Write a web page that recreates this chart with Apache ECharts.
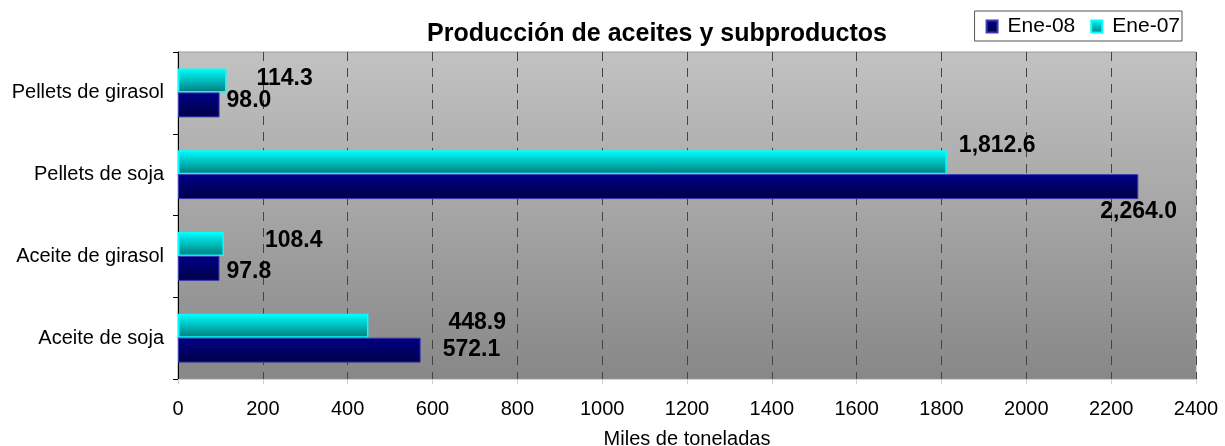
<!DOCTYPE html>
<html>
<head>
<meta charset="utf-8">
<script src="https://cdn.jsdelivr.net/npm/echarts@6/dist/echarts.min.js"></script>
<style>
  html, body { margin: 0; padding: 0; background: #fff; }
  #chart { width: 1225px; height: 446px; }
</style>
</head>
<body>
<div id="chart"></div>
<script>
const categories = ['Aceite de soja', 'Aceite de girasol', 'Pellets de soja', 'Pellets de girasol'];
const ene08 = [572.1, 97.8, 2264.0, 98.0];
const ene07 = [448.9, 108.4, 1812.6, 114.3];
const xTicks = { min: 0, max: 2400, step: 200 };

// label nudges, roughly where the original spreadsheet placed them
const offsets08 = [[22, 0], [7, 3], [-38, 25], [7, -4]];
const offsets07 = [[80, -3], [41, -3], [12, -16], [30, -2]];

const fontFam = 'Liberation Sans, Arial, sans-serif';

const fmt = (v) => v.toLocaleString('en-US', { minimumFractionDigits: 1, maximumFractionDigits: 1 });

const makeData = (values, offs) => values.map((v, i) => ({
  value: v,
  label: { offset: offs[i] }
}));

const barLabel = {
  show: true,
  position: 'right',
  distance: 0,
  formatter: (p) => fmt(p.value),
  fontFamily: fontFam,
  fontSize: 23,
  fontWeight: 'bold',
  color: '#000'
};

const chart = echarts.init(document.getElementById('chart'));

chart.setOption({
  animation: false,
  title: {
    text: 'Producción de aceites y subproductos',
    left: 652,
    textAlign: 'center',
    top: 17,
    textStyle: { fontFamily: fontFam, fontSize: 25, fontWeight: 'bold', color: '#000' }
  },
  legend: {
    right: 43,
    top: 11,
    orient: 'horizontal',
    icon: 'rect',
    itemWidth: 11,
    itemHeight: 12,
    itemGap: 15,
    padding: [5, 2, 4, 11],
    borderColor: '#555',
    borderWidth: 1,
    backgroundColor: '#fff',
    data: ['Ene-08', 'Ene-07'],
    textStyle: { fontFamily: fontFam, fontSize: 21, color: '#000', padding: [0, 0, 0, 5] }
  },
  grid: {
    left: 178,
    right: 29,
    top: 52,
    bottom: 67,
    outerBoundsMode: 'none',
    show: true,
    borderColor: '#9a9a9a',
    borderWidth: 1,
    backgroundColor: new echarts.graphic.LinearGradient(0, 0, 0, 1, [
      { offset: 0, color: '#c2c2c2' },
      { offset: 1, color: '#878787' }
    ])
  },
  xAxis: {
    type: 'value',
    min: xTicks.min,
    max: xTicks.max,
    interval: xTicks.step,
    name: 'Miles de toneladas',
    nameLocation: 'middle',
    nameGap: 50,
    nameTextStyle: { fontFamily: fontFam, fontSize: 20, color: '#000' },
    axisLine: { show: true, lineStyle: { color: '#cfcfcf' } },
    axisTick: { show: true, length: 5, lineStyle: { color: '#cfcfcf' } },
    axisLabel: {
      fontFamily: fontFam, fontSize: 20, color: '#000', margin: 20,
      formatter: (v) => String(v)
    },
    splitLine: { show: true, lineStyle: { color: '#444', type: [9, 7], width: 1 } }
  },
  yAxis: {
    type: 'category',
    data: categories,
    axisLine: { show: true, lineStyle: { color: '#000' } },
    axisTick: { show: true, length: 5, lineStyle: { color: '#000' } },
    axisLabel: { fontFamily: fontFam, fontSize: 20, color: '#000', margin: 14 },
    splitLine: { show: false }
  },
  series: [
    {
      name: 'Ene-07',
      type: 'bar',
      barWidth: 24,
      barGap: '0%',
      data: makeData(ene07, offsets07),
      itemStyle: {
        color: new echarts.graphic.LinearGradient(0, 0, 0, 1, [
          { offset: 0, color: '#00ffff' },
          { offset: 1, color: '#007b7b' }
        ]),
        borderColor: '#00ffff',
        borderWidth: 1.5
      },
      label: barLabel
    },
    {
      name: 'Ene-08',
      type: 'bar',
      barWidth: 25,
      barGap: '0%',
      data: makeData(ene08, offsets08),
      itemStyle: {
        color: new echarts.graphic.LinearGradient(0, 0, 0, 1, [
          { offset: 0, color: '#000088' },
          { offset: 1, color: '#000048' }
        ]),
        borderColor: '#3b3bb0',
        borderWidth: 1
      },
      label: barLabel
    }
  ]
});
</script>
</body>
</html>
